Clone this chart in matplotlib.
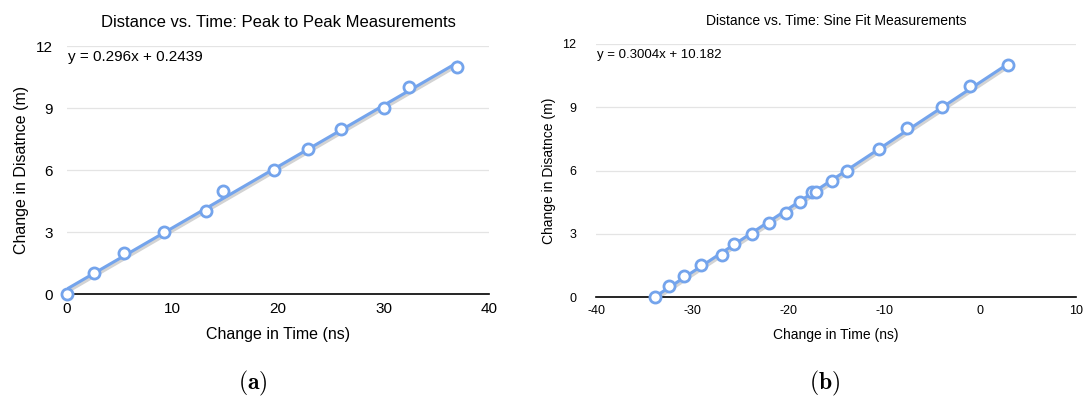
import matplotlib
matplotlib.use("Agg")
import matplotlib.pyplot as plt
import numpy as np

# Data
t_peak = [0, 2.6, 5.4, 9.15, 13.2, 14.8, 19.6, 22.8, 26.0, 30.0, 32.4, 37.0]
d_peak = [0, 1, 2, 3, 4, 5, 6, 7, 8, 9, 10, 11]
t_sine = [-33.9, -32.4, -30.8, -29.1, -26.9, -25.6, -23.8, -22.0, -20.2, -18.7,
          -17.5, -17.1, -15.4, -13.9, -10.5, -7.6, -4.0, -1.0, 2.9]
d_sine = [0, 0.5, 1, 1.5, 2, 2.5, 3, 3.5, 4, 4.5, 5, 5, 5.5, 6, 7, 8, 9, 10, 11]
fit_peak = (0.296, 0.2439)
fit_sine = (0.3004, 10.182)
yticks = [0, 3, 6, 9, 12]
xticks_a = [0, 10, 20, 30, 40]
xticks_b = [-40, -30, -20, -10, 0, 10]

plt.rcParams['font.family'] = ['Liberation Sans', 'DejaVu Sans']
plt.rcParams['mathtext.fontset'] = 'cm'
plt.rcParams['axes.unicode_minus'] = False

W, H = 1085, 401
fig = plt.figure(figsize=(W / 100, H / 100), dpi=100)

def px_axes(x0, x1, y0, y1):
    return fig.add_axes([x0 / W, 1 - y1 / H, (x1 - x0) / W, (y1 - y0) / H])

blue = '#74a4ec'

def draw(ax, t, d, fit, xticks, title, eq, tsize, lsize, ticksize, eqsize, ypad):
    xmin, xmax = xticks[0], xticks[-1]
    ax.set_xlim(xmin, xmax)
    ax.set_ylim(0, 12)
    ax.set_yticks(yticks)
    ax.set_xticks(xticks)
    ax.grid(axis='y', color='#e4e4e4', lw=0.9)
    ax.set_axisbelow(True)
    for s in ['left', 'right', 'top']:
        ax.spines[s].set_visible(False)
    ax.spines['bottom'].set_color('black')
    ax.spines['bottom'].set_linewidth(1.2)
    ax.tick_params(axis='x', length=0, labelsize=ticksize, pad=6)
    ax.tick_params(axis='y', length=0, labelsize=ticksize, pad=ypad)
    m, b = fit
    xs = np.array([min(t), max(t)])
    ax.plot(xs, m * xs + b - 0.12, color='#c8c8c8', lw=3.0, alpha=0.8, zorder=2)
    ax.plot(xs, m * xs + b, color=blue, lw=2.2, zorder=3)
    ax.plot(t, d, 'o', mfc='white', mec=blue, mew=2.0, ms=8, zorder=4, clip_on=False)
    ax.set_title(title, fontsize=tsize, pad=14)
    ax.set_xlabel('Change in Time (ns)', fontsize=lsize)
    ax.set_ylabel('Change in Disatnce (m)', fontsize=lsize)
    ax.text(0.003, 0.955, eq, transform=ax.transAxes, fontsize=eqsize, va='center', ha='left')

ax1 = px_axes(67, 489, 46, 294)
draw(ax1, t_peak, d_peak, fit_peak, xticks_a,
     'Distance vs. Time: Peak to Peak Measurements',
     'y = 0.296x + 0.2439', 12, 11.5, 11, 11, 10)
ax1.xaxis.labelpad = 8
ax1.yaxis.labelpad = 5

ax2 = px_axes(596, 1076, 44, 297)
draw(ax2, t_sine, d_sine, fit_sine, xticks_b,
     'Distance vs. Time: Sine Fit Measurements',
     'y = 0.3004x + 10.182', 10, 10, 9, 9.5, 14)
ax2.xaxis.labelpad = 8
ax2.yaxis.labelpad = 5

fig.text(253 / W, 1 - 383 / H, r'$\mathbf{(a)}$', fontsize=17, ha='center', va='center')
fig.text(825 / W, 1 - 383 / H, r'$\mathbf{(b)}$', fontsize=17, ha='center', va='center')

fig.savefig('out.png', dpi=100)
